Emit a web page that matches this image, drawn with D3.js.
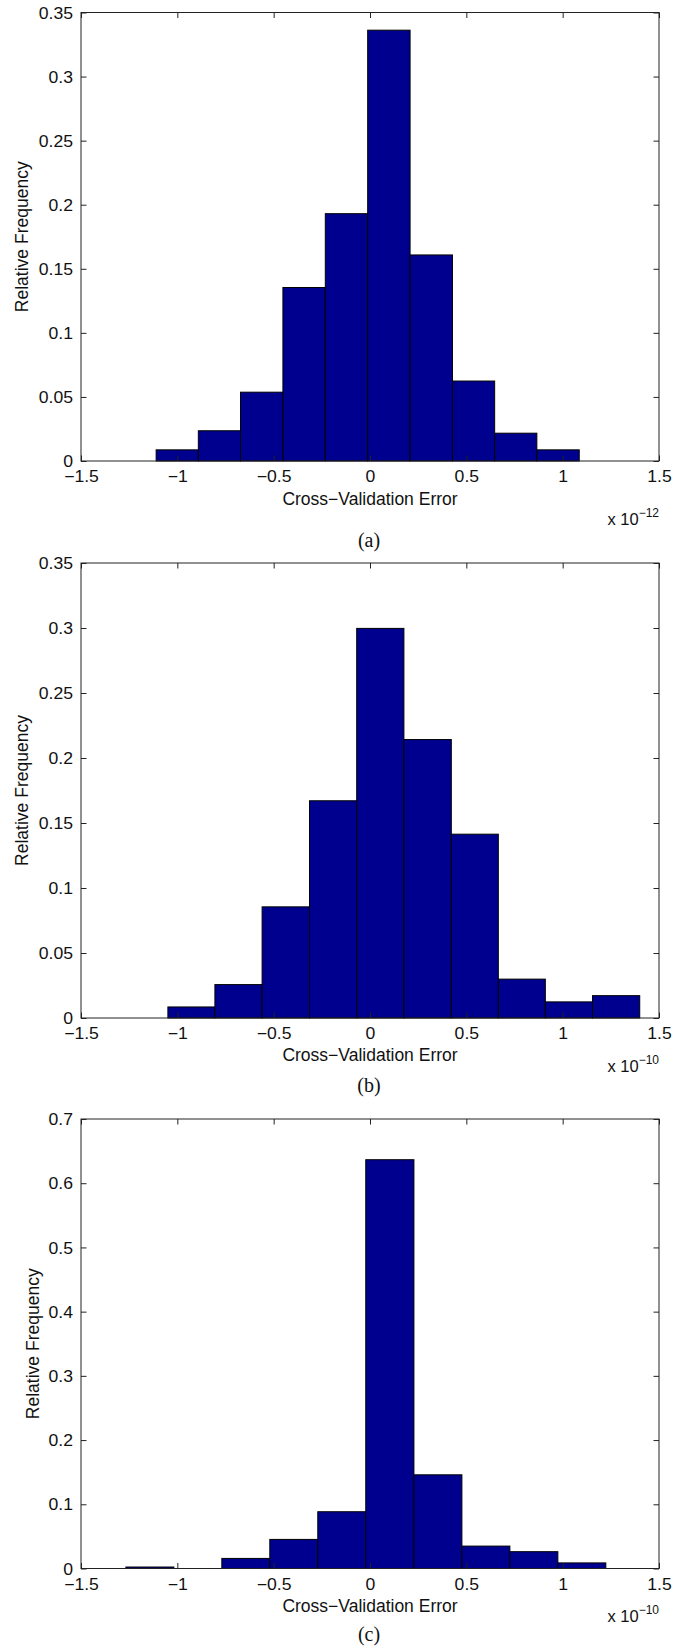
<!DOCTYPE html>
<html>
<head>
<meta charset="utf-8">
<script src="https://cdn.jsdelivr.net/npm/d3@7"></script>
<style>
  body { margin: 0; background: #fff; }
  svg { display: block; }
  .tick text { font-family: "Liberation Sans", Arial, sans-serif; font-size: 16px; fill: #111;
    transform-box: fill-box; transform: scaleX(1.1); }
  .x-ticks .tick text { transform-origin: center; }
  .y-ticks .tick text { transform-origin: right center; }
  .axis-label { font-family: "Liberation Sans", Arial, sans-serif; font-size: 17.5px; fill: #111; }
  .caption { font-family: "Liberation Serif", "Times New Roman", serif; font-size: 20px; fill: #111; }
</style>
</head>
<body>
<svg id="chart" width="684" height="1646"></svg>
<script>
// histogram bin edges (x 10^-12 / x 10^-10) and relative frequencies
const edgesA = [-1.110, -0.891, -0.672, -0.452, -0.232, -0.012, 0.208, 0.428, 0.647, 0.866, 1.086];
const freqA  = [0.0087, 0.0236, 0.0537, 0.1354, 0.1930, 0.3362, 0.1608, 0.0624, 0.0217, 0.0087];

const edgesB = [-1.049, -0.805, -0.560, -0.314, -0.069, 0.176, 0.422, 0.666, 0.910, 1.155, 1.400];
const freqB  = [0.0085, 0.0257, 0.0855, 0.1671, 0.2997, 0.2142, 0.1414, 0.0299, 0.0124, 0.0172];

const edgesC = [-1.267, -1.018, -0.769, -0.520, -0.271, -0.022, 0.228, 0.477, 0.726, 0.975, 1.224];
const freqC  = [0.0023, 0, 0.0157, 0.0453, 0.0884, 0.6366, 0.1459, 0.0349, 0.0262, 0.0087];

const xTicks = [-1.5, -1, -0.5, 0, 0.5, 1, 1.5];
const yTicksAB = [0, 0.05, 0.1, 0.15, 0.2, 0.25, 0.3, 0.35];
const yTicksC = [0, 0.1, 0.2, 0.3, 0.4, 0.5, 0.6, 0.7];

const xLabel = "Cross\u2212Validation Error";
const yLabel = "Relative Frequency";

const svg = d3.select("#chart");
const barColor = "#00008f";
const fmt = d3.format("~g");

function drawPanel(p) {
  const x = d3.scaleLinear().domain([-1.5, 1.5]).range([81, 659]);
  const y = d3.scaleLinear().domain([0, p.yMax]).range([p.bottom, p.top]);
  const g = svg.append("g");

  // bars
  g.selectAll(".bar")
    .data(p.freq)
    .enter().append("rect")
    .attr("class", "bar")
    .attr("x", (d, i) => x(p.edges[i]))
    .attr("width", (d, i) => x(p.edges[i + 1]) - x(p.edges[i]))
    .attr("y", d => y(d))
    .attr("height", d => y(0) - y(d))
    .attr("fill", barColor)
    .attr("stroke", "#000")
    .attr("stroke-width", 1);

  // axes, ticks pointing inward
  const bottom = g.append("g")
    .attr("class", "x-ticks")
    .attr("transform", `translate(0,${p.bottom})`)
    .call(d3.axisBottom(x).tickValues(xTicks).tickFormat(fmt).tickSizeInner(-5.5).tickSizeOuter(0).tickPadding(10));
  const top = g.append("g")
    .attr("transform", `translate(0,${p.top})`)
    .call(d3.axisTop(x).tickValues(xTicks).tickFormat("").tickSizeInner(-5.5).tickSizeOuter(0));
  const left = g.append("g")
    .attr("class", "y-ticks")
    .attr("transform", `translate(81,0)`)
    .call(d3.axisLeft(y).tickValues(p.yTicks).tickFormat(fmt).tickSizeInner(-5.5).tickSizeOuter(0).tickPadding(8));
  const right = g.append("g")
    .attr("transform", `translate(659,0)`)
    .call(d3.axisRight(y).tickValues(p.yTicks).tickFormat("").tickSizeInner(-5.5).tickSizeOuter(0));

  [bottom, top, left, right].forEach(a => {
    a.select(".domain").remove();
    a.selectAll(".tick line").attr("stroke", "#222");
  });
  left.selectAll(".tick text").attr("dy", "0.35em");

  // box
  g.append("rect")
    .attr("x", 81).attr("y", p.top)
    .attr("width", 578).attr("height", p.bottom - p.top)
    .attr("fill", "none").attr("stroke", "#222").attr("stroke-width", 1);

  g.append("text")
    .attr("class", "axis-label")
    .attr("x", 370)
    .attr("y", p.bottom + p.xLabelOff)
    .attr("text-anchor", "middle")
    .text(xLabel);

  g.append("text")
    .attr("class", "axis-label")
    .attr("transform", `translate(${p.yLabelX},${(p.top + p.bottom) / 2}) rotate(-90)`)
    .attr("text-anchor", "middle")
    .text(yLabel);

  const mult = g.append("text")
    .attr("class", "axis-label")
    .style("font-size", "16.5px")
    .attr("x", 659)
    .attr("y", p.bottom + p.multOff)
    .attr("text-anchor", "end");
  mult.append("tspan").text("x 10");
  mult.append("tspan").attr("dy", -8).style("font-size", "12px").text(p.exponent);

  g.append("text")
    .attr("class", "caption")
    .attr("x", 369)
    .attr("y", p.bottom + p.captionOff)
    .attr("text-anchor", "middle")
    .text(p.caption);
}

drawPanel({ edges: edgesA, freq: freqA, yMax: 0.35, yTicks: yTicksAB, top: 12.5, bottom: 461,
  xLabelOff: 44, multOff: 64, captionOff: 86, yLabelX: 27.5, exponent: "\u221212", caption: "(a)" });
drawPanel({ edges: edgesB, freq: freqB, yMax: 0.35, yTicks: yTicksAB, top: 563, bottom: 1018,
  xLabelOff: 43, multOff: 54, captionOff: 74, yLabelX: 27.5, exponent: "\u221210", caption: "(b)" });
drawPanel({ edges: edgesC, freq: freqC, yMax: 0.7, yTicks: yTicksC, top: 1119, bottom: 1568.5,
  xLabelOff: 43.5, multOff: 53, captionOff: 72.5, yLabelX: 38.5, exponent: "\u221210", caption: "(c)" });
</script>
</body>
</html>
